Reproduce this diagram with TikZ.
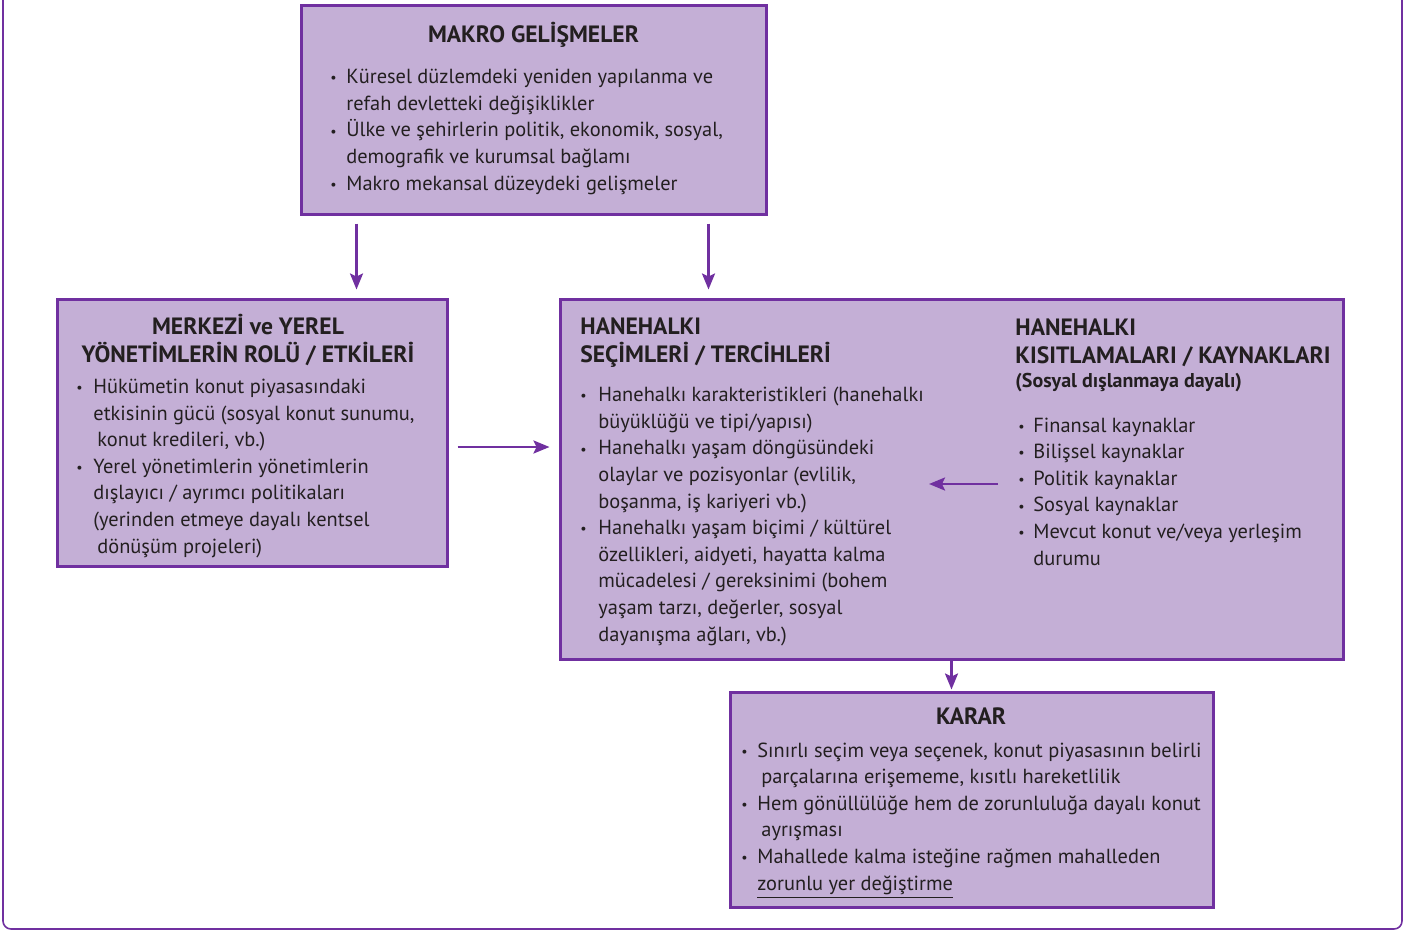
\documentclass[tikz,border=0pt]{standalone}
\usepackage{fontspec}
\setmainfont{PT Sans}
\usetikzlibrary{arrows.meta,positioning,calc}
\definecolor{boxfill}{RGB}{196,175,214}
\definecolor{boxline}{RGB}{112,48,160}
\definecolor{txt}{RGB}{35,31,32}
\newlength{\bulw}
\newcommand{\bul}{\makebox[\bulw][l]{\raisebox{.4pt}{\scriptsize\textbullet}}}
\newcommand{\cnt}{\hspace*{\bulw}}

\begin{document}
\begin{tikzpicture}[x=0.5pt, y=-0.5pt, >={Stealth[length=8pt, width=6.5pt, inset=1.5pt]},
  pbox/.style={draw=boxline, line width=1.5pt, fill=boxfill, inner sep=0pt},
  ttl/.style={font=\fontsize{11.8}{13.6}\selectfont\bfseries, text=txt, inner sep=0pt, align=#1},
  ttl/.default=left,
  body/.style={font=\fontsize{10.2}{13.3}\selectfont, text=txt, align=left, inner sep=0pt, anchor=base west},
  bw/.code={\setlength{\bulw}{#1}},
  arr/.style={->, draw=boxline, line width=1.2pt}]
  \useasboundingbox (0,0) rectangle (1412,932);
  % frame
  \draw[boxline, line width=0.8pt, rounded corners=4pt] (3,-5) -- (3,929) -- (1402,929) -- (1402,-5);

  % boxes
  \node[pbox, minimum width=232.5pt, minimum height=104.5pt] (makro) at (533.5,109.5) {};
  \node[pbox, minimum width=195pt, minimum height=133.5pt] (merkezi) at (252,432.5) {};
  \node[pbox, minimum width=391.5pt, minimum height=180pt] (hane) at (951.5,479) {};
  \node[pbox, minimum width=241.5pt, minimum height=107.5pt] (karar) at (971.5,799.5) {};

  % texts (base = last line)
  \node[ttl=center, anchor=base] (makroT) at (533.5,42) {MAKRO GELİŞMELER};
  \node[body, bw=8pt] (makroB) at (330,190) {\bul Küresel düzlemdeki yeniden yapılanma ve\\
    \cnt refah devletteki değişiklikler\\
    \bul Ülke ve şehirlerin politik, ekonomik, sosyal,\\
    \cnt demografik ve kurumsal bağlamı\\
    \bul Makro mekansal düzeydeki gelişmeler};

  \node[ttl=center, anchor=base] (merkeziT) at (248,362) {MERKEZİ ve YEREL\\YÖNETİMLERİN ROLÜ / ETKİLERİ};
  \node[body, bw=8.5pt] (merkeziB) at (76,553) {\bul Hükümetin konut piyasasındaki\\
    \cnt etkisinin gücü (sosyal konut sunumu,\\
    \cnt\hspace*{2pt}konut kredileri, vb.)\\
    \bul Yerel yönetimlerin yönetimlerin\\
    \cnt dışlayıcı / ayrımcı politikaları\\
    \cnt (yerinden etmeye dayalı kentsel\\
    \cnt\hspace*{2pt}dönüşüm projeleri)};

  \node[ttl, anchor=base west] (secimT) at (580,362) {HANEHALKI\\SEÇİMLERİ / TERCİHLERİ};
  \node[body, bw=9pt] (secimB) at (580,641) {\bul Hanehalkı karakteristikleri (hanehalkı\\
    \cnt büyüklüğü ve tipi/yapısı)\\
    \bul Hanehalkı yaşam döngüsündeki\\
    \cnt olaylar ve pozisyonlar (evlilik,\\
    \cnt boşanma, iş kariyeri vb.)\\
    \bul Hanehalkı yaşam biçimi / kültürel\\
    \cnt özellikleri, aidyeti, hayatta kalma\\
    \cnt mücadelesi / gereksinimi (bohem\\
    \cnt yaşam tarzı, değerler, sosyal\\
    \cnt dayanışma ağları, vb.)};

  \node[ttl, anchor=base west] (kisitT) at (1015,363) {HANEHALKI\\KISITLAMALARI / KAYNAKLARI};
  \node[font=\fontsize{10}{11}\selectfont\bfseries, text=txt, inner sep=0pt, anchor=base west] (kisitS) at (1015,387) {(Sosyal dışlanmaya dayalı)};
  \node[body, bw=7.5pt] (kisitB) at (1018,565) {\bul Finansal kaynaklar\\
    \bul Bilişsel kaynaklar\\
    \bul Politik kaynaklar\\
    \bul Sosyal kaynaklar\\
    \bul Mevcut konut ve/veya yerleşim\\
    \cnt durumu};

  \node[ttl=center, anchor=base] (kararT) at (971,724) {KARAR};
  \node[body, bw=8pt] (kararB) at (741,890) {\bul Sınırlı seçim veya seçenek, konut piyasasının belirli\\
    \cnt\hspace*{2pt}parçalarına erişememe, kısıtlı hareketlilik\\
    \bul Hem gönüllülüğe hem de zorunluluğa dayalı konut\\
    \cnt\hspace*{2pt}ayrışması\\
    \bul Mahallede kalma isteğine rağmen mahalleden\\
    \cnt\underline{zorunlu yer değiştirme}};

  % arrows
  \coordinate (m1) at ($(makro.south west)+(57,0)$);
  \coordinate (m2) at ($(makro.south west)+(409,0)$);
  \coordinate (m3) at ($(merkezi.east)+(0,14.5)$);
  \coordinate (kR) at (998,484);
  \coordinate (kL) at (929,484);
  \draw[arr, shorten <=4pt, shorten >=4pt] (m1) -- (m1 |- merkezi.north);
  \draw[arr, shorten <=4pt, shorten >=4pt] (m2) -- (m2 |- hane.north);
  \draw[arr, shorten <=4.5pt, shorten >=4.5pt] (m3) -- (m3 -| hane.west);
  \draw[arr] (kR) -- (kL);
  \draw[arr, shorten >=0.5pt] (hane.south) -- (hane.south |- karar.north);
\end{tikzpicture}
\end{document}
